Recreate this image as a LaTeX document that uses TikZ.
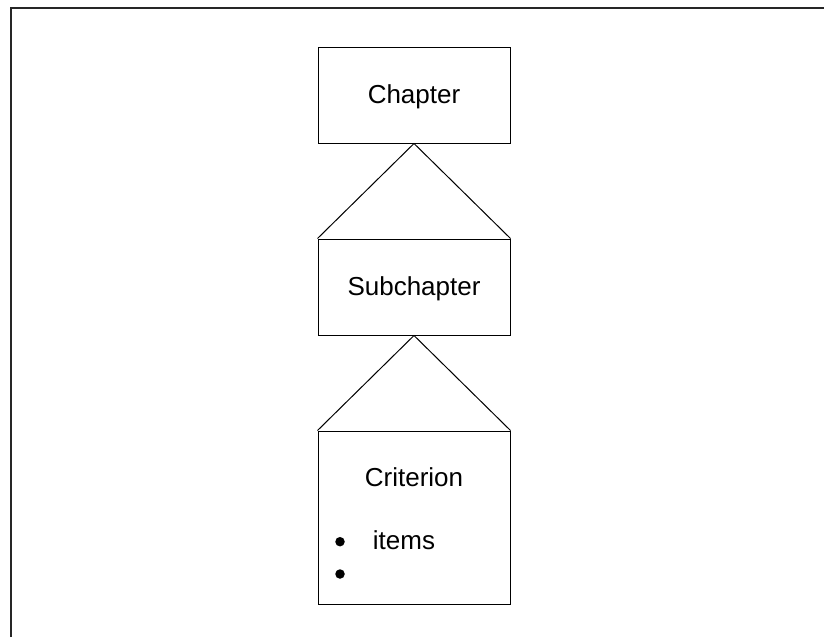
\documentclass[tikz,border=0pt]{standalone}
\usepackage{fontspec}
\setmainfont{Liberation Sans}
\begin{document}
\begin{tikzpicture}[x=1pt,y=-1pt,
  box/.style={draw=black,line width=1pt,rectangle,minimum width=192pt,inner sep=0pt},
  lbl/.style={font=\fontsize{26}{31}\selectfont,inner sep=0pt},
  dot/.style={circle,fill=black,inner sep=0pt,minimum size=9.5pt},
  link/.style={draw=black,line width=1pt}]
\useasboundingbox (0,0) rectangle (824,637);
\coordinate (fb) at (11,637);
\coordinate (ftl) at (11,8);
\coordinate (fr) at (824,8);
\draw[line width=1.6pt,black!85] (fb) -- (ftl) -- (fr);
\node[box,minimum height=96pt] (chap) at (414,95) {};
\node[box,minimum height=96pt] (sub) at (414,287) {};
\node[box,minimum height=173pt] (crit) at (414,517.5) {};
\node[lbl,anchor=base] (chapt) at (414,103) {Chapter};
\node[lbl,anchor=base] (subt) at (414,295) {Subchapter};
\node[lbl,anchor=base] (critt) at (414,486.7) {Criterion};
\node[lbl,anchor=base west] (items) at (372.7,549.3) {items};
\node[dot] (b1) at (340,541.7) {};
\node[dot] (b2) at (340,574) {};
\draw[link] (sub.north west) -- (chap.south) -- (sub.north east);
\draw[link] (crit.north west) -- (sub.south) -- (crit.north east);
\end{tikzpicture}
\end{document}
